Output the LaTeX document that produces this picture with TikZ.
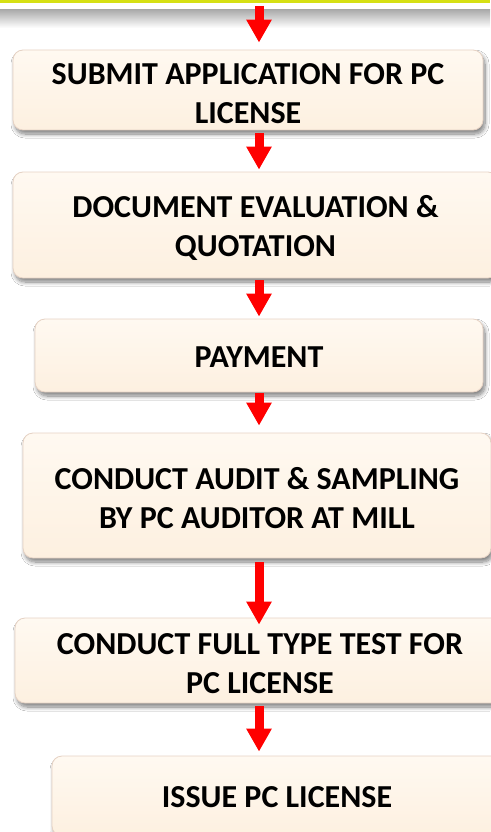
\documentclass[tikz,border=0pt]{standalone}
\usepackage{fontspec}
\setmainfont{Carlito}
\usetikzlibrary{arrows.meta,shadows.blur}
\definecolor{creamtop}{RGB}{255,249,241}
\definecolor{creambot}{RGB}{253,240,224}
\definecolor{creamedge}{RGB}{230,210,196}
\definecolor{topyellow}{RGB}{214,224,20}
\definecolor{bandgrey}{RGB}{172,172,172}
\newcommand\twoup{\rule{0pt}{28pt}}
\newcommand\oneup{\rule{0pt}{23pt}}
\tikzset{
  box/.style={rounded corners=10pt, top color=creamtop, bottom color=creambot,
    draw=creamedge, line width=0.8pt, inner sep=0pt, align=center,
    font=\fontsize{32}{39}\selectfont\bfseries,
    blur shadow={shadow xshift=2pt, shadow yshift=-4pt, shadow blur radius=4pt,
      shadow blur steps=10, shadow opacity=50}},
  arr/.style={draw=red, line width=9pt,
    -{Triangle[width=24pt,length=23pt]}, red}
}
\begin{document}
\begin{tikzpicture}[x=1pt,y=-1pt]
\useasboundingbox (0,0) rectangle (490,832);
% top band
\fill[white] (0,0) rectangle (490,832);
\shade[top color=bandgrey, bottom color=white] (0,10) rectangle (490,28);
\fill[topyellow] (0,0) rectangle (490,3.5);
\coordinate (ax) at (259,0);
\coordinate (start) at (259,6);
% boxes
\node[box, minimum width=470pt, minimum height=80pt] (b1) at (248,90)
  {\twoup SUBMIT APPLICATION FOR PC\\LICENSE};
\node[box, minimum width=485pt, minimum height=106pt] (b2) at (255.5,225)
  {\twoup DOCUMENT EVALUATION \&\\QUOTATION};
\node[box, minimum width=448pt, minimum height=73pt] (b3) at (259,355.5)
  {\oneup PAYMENT};
\node[box, minimum width=468pt, minimum height=125pt] (b4) at (257,495.5)
  {\twoup CONDUCT AUDIT \& SAMPLING\\BY PC AUDITOR AT MILL};
\node[box, minimum width=490pt, minimum height=85pt] (b5) at (260,660.5)
  {\twoup CONDUCT FULL TYPE TEST FOR\\PC LICENSE};
\node[box, minimum width=450pt, minimum height=80pt] (b6) at (277,796)
  {\oneup ISSUE PC LICENSE};
% arrows
\draw[arr, shorten >=7pt] (start) -- (b1.north -| ax);
\draw[arr, shorten <=3pt, shorten >=2pt] (b1.south -| ax) -- (b2.north -| ax);
\draw[arr, shorten <=2pt, shorten >=2pt] (b2.south -| ax) -- (b3.north -| ax);
\draw[arr, shorten <=1pt, shorten >=7pt] (b3.south -| ax) -- (b4.north -| ax);
\draw[arr, shorten <=4pt, shorten >=-7pt] (b4.south -| ax) -- (b5.north -| ax);
\draw[arr, shorten <=3pt, shorten >=4pt] (b5.south -| ax) -- (b6.north -| ax);
\end{tikzpicture}
\end{document}
